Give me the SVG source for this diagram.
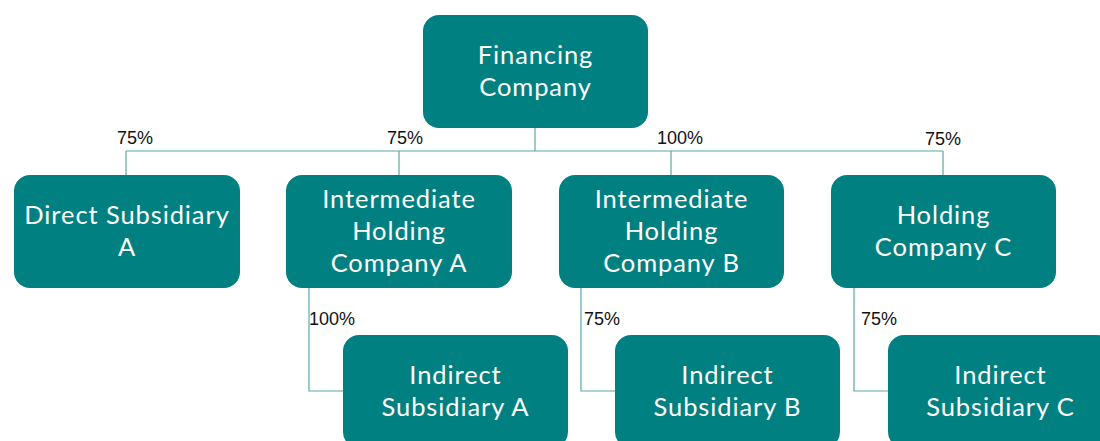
<svg xmlns="http://www.w3.org/2000/svg" width="1100" height="441" viewBox="0 0 1100 441">
  <style>
    .box { fill: #008080; }
    .name { font-family: Lato, "Open Sans", sans-serif; font-size: 25.5px; letter-spacing: 0.9px; fill: #ffffff; text-anchor: middle; }
    .pct { font-family: "Liberation Sans", Arial, sans-serif; font-size: 18px; fill: #111111; }
    .link { fill: none; stroke: #5aa9a9; stroke-width: 1.2; }
  </style>
  <rect width="1100" height="441" fill="#ffffff"/>

  <g id="connectors">
    <path class="link" d="M535 128 V151 M126 151 H943 M126 151 V175 M399 151 V175 M671 151 V175 M943 151 V175"/>
    <path class="link" d="M309 288 V391 H343"/>
    <path class="link" d="M581 288 V391 H615"/>
    <path class="link" d="M854 288 V391 H888"/>
    <text class="pct" x="135" y="144" text-anchor="middle">75%</text>
    <text class="pct" x="405" y="144" text-anchor="middle">75%</text>
    <text class="pct" x="680" y="144" text-anchor="middle">100%</text>
    <text class="pct" x="943" y="145" text-anchor="middle">75%</text>
    <text class="pct" x="309" y="325">100%</text>
    <text class="pct" x="584" y="325">75%</text>
    <text class="pct" x="861" y="325">75%</text>
  </g>

  <g id="financing-company">
    <rect class="box" x="423" y="15" width="225" height="113" rx="16"/>
    <text class="name" x="535.5" y="64">Financing</text>
    <text class="name" x="535.5" y="96">Company</text>
  </g>

  <g id="direct-subsidiary-a">
    <rect class="box" x="14" y="175" width="226" height="113" rx="16"/>
    <text class="name" x="127" y="224">Direct Subsidiary</text>
    <text class="name" x="127" y="256">A</text>
  </g>

  <g id="intermediate-holding-a">
    <rect class="box" x="286" y="175" width="226" height="113" rx="16"/>
    <text class="name" x="399" y="208">Intermediate</text>
    <text class="name" x="399" y="240">Holding</text>
    <text class="name" x="399" y="272">Company A</text>
  </g>

  <g id="intermediate-holding-b">
    <rect class="box" x="559" y="175" width="225" height="113" rx="16"/>
    <text class="name" x="671.5" y="208">Intermediate</text>
    <text class="name" x="671.5" y="240">Holding</text>
    <text class="name" x="671.5" y="272">Company B</text>
  </g>

  <g id="holding-company-c">
    <rect class="box" x="831" y="175" width="225" height="113" rx="16"/>
    <text class="name" x="943.5" y="224">Holding</text>
    <text class="name" x="943.5" y="256">Company C</text>
  </g>

  <g id="indirect-subsidiary-a">
    <rect class="box" x="343" y="335" width="225" height="113" rx="16"/>
    <text class="name" x="455.5" y="384">Indirect</text>
    <text class="name" x="455.5" y="416">Subsidiary A</text>
  </g>

  <g id="indirect-subsidiary-b">
    <rect class="box" x="615" y="335" width="225" height="113" rx="16"/>
    <text class="name" x="727.5" y="384">Indirect</text>
    <text class="name" x="727.5" y="416">Subsidiary B</text>
  </g>

  <g id="indirect-subsidiary-c">
    <rect class="box" x="888" y="335" width="225" height="113" rx="16"/>
    <text class="name" x="1000.5" y="384">Indirect</text>
    <text class="name" x="1000.5" y="416">Subsidiary C</text>
  </g>
</svg>
